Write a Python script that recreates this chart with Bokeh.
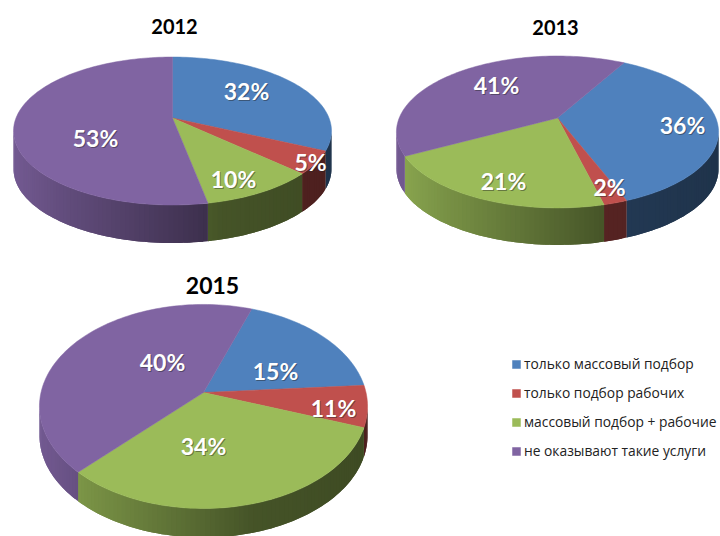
import math
import numpy as np
from bokeh.core.properties import value
from bokeh.embed import file_html
from bokeh.models import ColumnDataSource, Legend, LegendItem, Range1d
from bokeh.plotting import figure
from bokeh.resources import INLINE

categories = ["только массовый подбор", "только подбор рабочих",
              "массовый подбор + рабочие", "не оказывают такие услуги"]
colors = ["#4F81BD", "#C0504D", "#9BBB59", "#8064A2"]

years = ["2012", "2013", "2015"]
labels_2012 = ["32%", "5%", "10%", "53%"]
labels_2013 = ["36%", "2%", "21%", "41%"]
labels_2015 = ["15%", "11%", "34%", "40%"]
# slice shares as drawn in the picture (the 2015 pie is not drawn to its printed labels)
shares_2012 = [32, 5, 10, 53]
shares_2013 = [36, 2, 21, 41]
shares_2015 = [18.4, 6.6, 31.8, 43.2]

# layout of each pie: apex x, apex y, half width, half height, perspective, depth, first angle
pies = [
    dict(year="2012", shares=shares_2012, labels=labels_2012, cx=172, cy=117.5, rx=156.5, ry=71.7, k=0.176, depth=38, start=0,
         title=(174, 26), tsize="20px", lx=[246, 310, 233, 95], ly=[90, 161, 178, 137]),
    dict(year="2013", shares=shares_2013, labels=labels_2013, cx=557, cy=117.5, rx=158.3, ry=73.4, k=0.184, depth=37, start=29.2,
         title=(555, 27), tsize="20px", lx=[682, 609, 503, 496], ly=[124, 186, 180, 84]),
    dict(year="2015", shares=shares_2015, labels=labels_2015, cx=203, cy=392, rx=162.5, ry=100.1, k=0.137, depth=29, start=19.6,
         title=(212, 285), tsize="23px", lx=[275, 333, 203, 162], ly=[370, 407, 445, 361]),
]

W, H = 720, 536
p = figure(width=W, height=H, x_range=Range1d(0, W), y_range=Range1d(H, 0),
           output_backend="svg", toolbar_location=None, min_border=0,
           background_fill_color="white", border_fill_color="white")
p.axis.visible = False
p.grid.visible = False
p.outline_line_color = None


def project(pie, deg, drop=0.0):
    th = np.radians(deg)
    u, v = np.sin(th), np.cos(th)
    w = 1 + pie["k"] * v
    return pie["cx"] + pie["rx"] * u / w, pie["cy"] - pie["ry"] * v / w + drop


def shade(hex_color, f):
    r, g, b = (int(hex_color[i:i + 2], 16) for i in (1, 3, 5))
    return "#%02x%02x%02x" % (int(r * f), int(g * f), int(b * f))


wall_x, wall_y, wall_c = [], [], []
top_x = [[] for _ in categories]
top_y = [[] for _ in categories]

for pie in pies:
    left = pie["cx"] - pie["rx"] * 1.016
    width = 2 * pie["rx"] * 1.016
    a0 = pie["start"]
    for i, share in enumerate(pie["shares"]):
        a1 = a0 + share * 3.6
        n = max(2, int(math.ceil((a1 - a0) / 1.5)))
        angs = np.linspace(a0, a1, n + 1)
        xs, ys = project(pie, angs)
        top_x[i].append([pie["cx"]] + list(xs))
        top_y[i].append([pie["cy"]] + list(ys))
        xb, yb = project(pie, angs, pie["depth"])
        for j in range(n):
            if xs[j + 1] < xs[j]:  # only the side that faces the viewer
                e = min(j + 2, n)  # each band reaches over the next one, which hides seams
                t = ((xs[j] + xs[j + 1]) / 2 - left) / width
                f = float(np.interp(t, [0, .15, .5, .65, 1], [.90, .78, .55, .45, .40]))
                wall_x.append([xs[j], xs[j + 1], xs[e], xb[e], xb[j + 1], xb[j]])
                wall_y.append([ys[j], ys[j + 1], ys[e], yb[e], yb[j + 1], yb[j]])
                wall_c.append(shade(colors[i], f))
        a0 = a1

p.patches(source=ColumnDataSource(dict(xs=wall_x, ys=wall_y, c=wall_c)), xs="xs", ys="ys",
          fill_color="c", line_color=None)

tops = []
for i, c in enumerate(colors):
    r = p.patches(top_x[i], top_y[i], fill_color=c, line_color=c, line_width=0.5)
    tops.append(r)

lbl_x, lbl_y, lbl_t = [], [], []
for pie in pies:
    lbl_x += pie["lx"]
    lbl_y += pie["ly"]
    lbl_t += pie["labels"]
font = value("Lato")
p.text(lbl_x, lbl_y, text=lbl_t, text_color="#222222", text_alpha=0.45, x_offset=1, y_offset=1.5,
       text_font=font, text_font_style="bold", text_font_size="23px",
       text_align="center", text_baseline="middle")
p.text(lbl_x, lbl_y, text=lbl_t, text_color="white",
       text_font=font, text_font_style="bold", text_font_size="23px",
       text_align="center", text_baseline="middle")

title_src = ColumnDataSource(dict(x=[q["title"][0] for q in pies], y=[q["title"][1] for q in pies],
                                  t=years, s=[q["tsize"] for q in pies]))
p.text(source=title_src, x="x", y="y", text="t", text_color="black",
       text_font=font, text_font_style="bold", text_font_size="s",
       text_align="center", text_baseline="middle")

legend = Legend(items=[LegendItem(label=c, renderers=[r]) for c, r in zip(categories, tops)],
                location=(511, 76), orientation="vertical", background_fill_alpha=0, border_line_color=None,
                label_text_font="Open Sans", label_text_font_size="13.8px", label_text_color="#222222",
                glyph_width=10, glyph_height=10, spacing=10, padding=0, margin=0, label_standoff=3,
                label_height=18)
p.add_layout(legend)

open("out.html", "w").write(file_html(p, INLINE))
